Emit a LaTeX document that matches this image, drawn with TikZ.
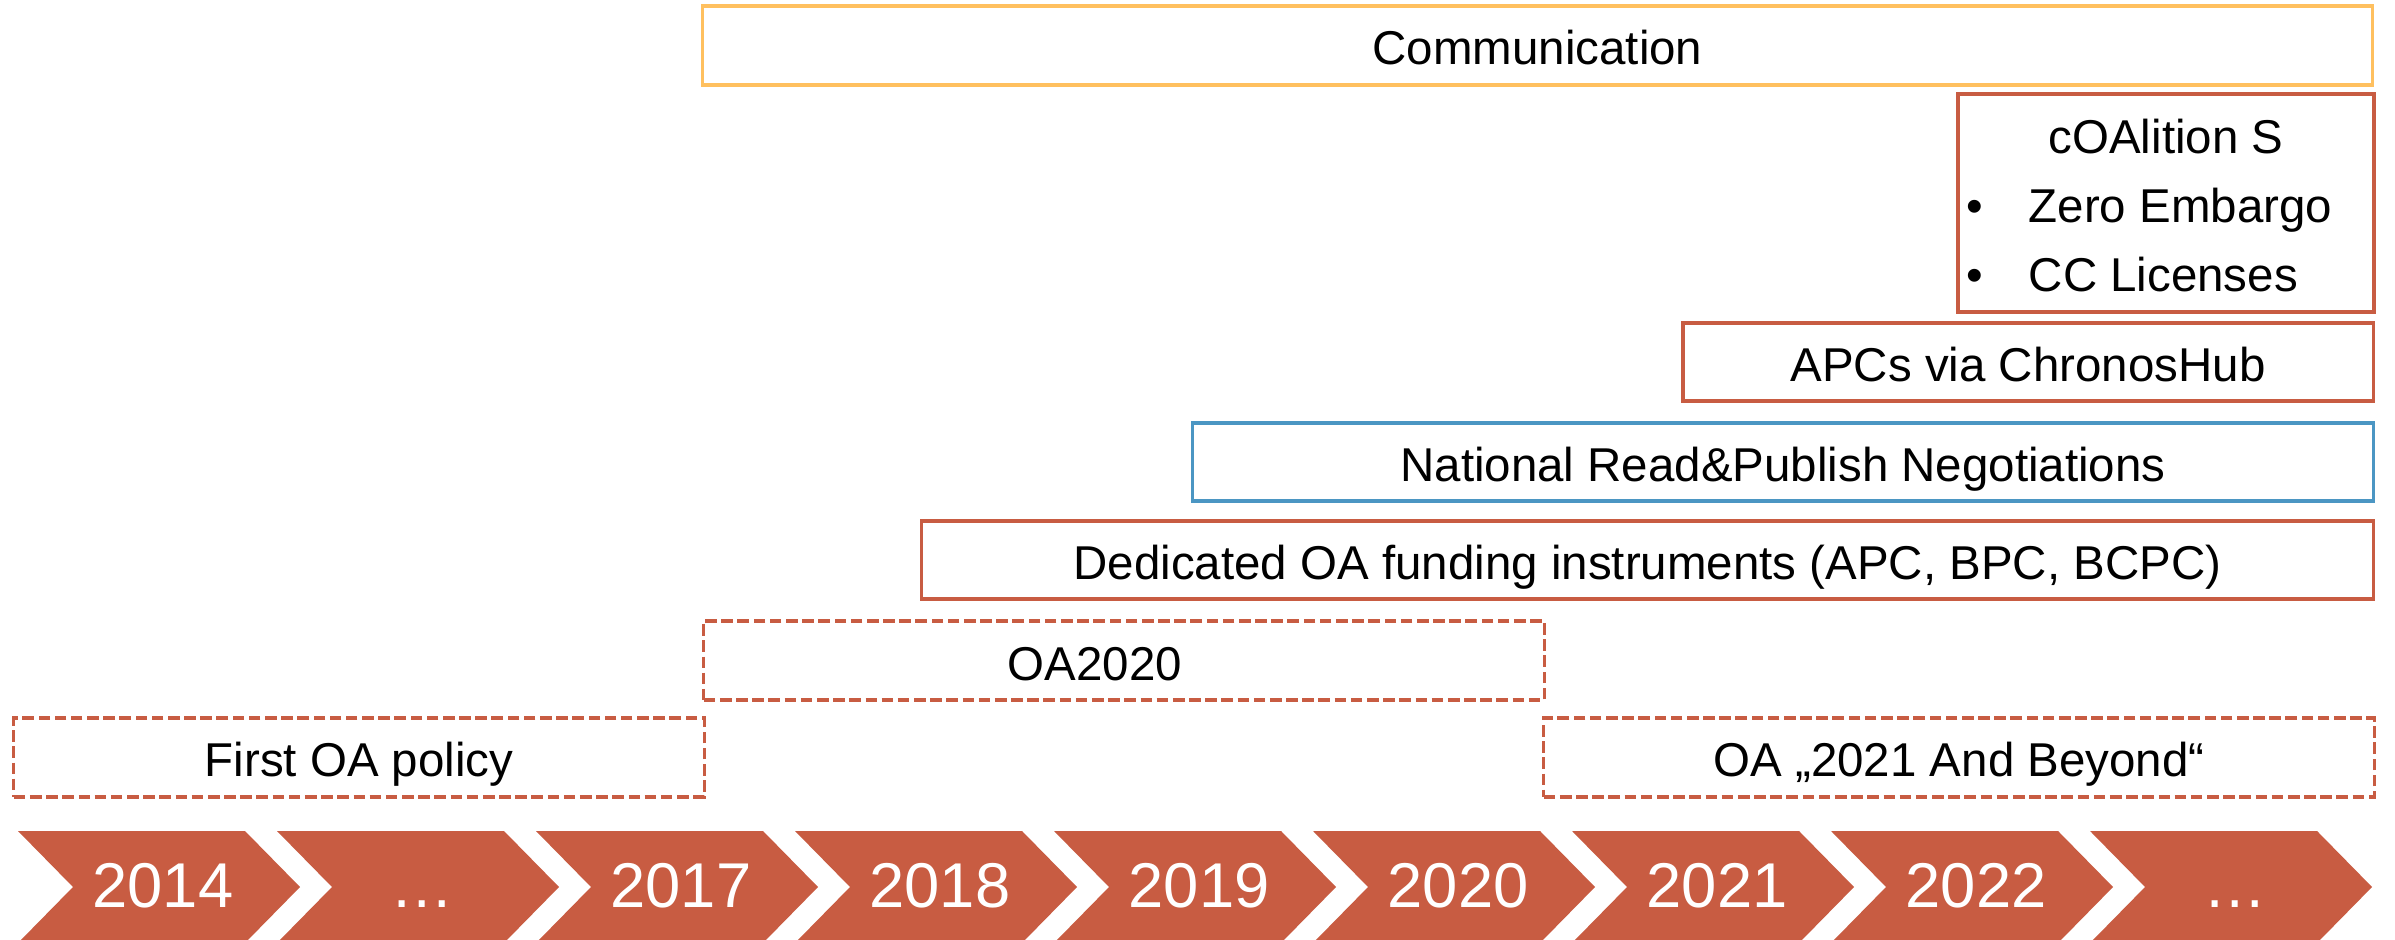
\documentclass[tikz,border=0pt]{standalone}
\usepackage{fontspec}
\setmainfont{Liberation Sans}
\definecolor{brick}{RGB}{200,92,66}
\definecolor{ablue}{RGB}{75,150,195}
\definecolor{aorange}{RGB}{255,192,95}
\tikzset{
  lbl/.style={font=\fontsize{13.5}{16}\selectfont, text=black},
  box/.style={draw=brick, line width=0.95pt, inner sep=0pt, text depth=0pt, text height=0.38cm, lbl},
  dbox/.style={box, dash pattern=on 3.3pt off 1.3pt},
  chev/.style={fill=brick, draw=none},
  yr/.style={font=\fontsize{18}{20}\selectfont, text=white, anchor=base, inner sep=0pt},
  bul/.style={lbl, anchor=base, inner sep=0pt},
}
\begin{document}
\begin{tikzpicture}[x=0.01cm, y=-0.01cm]
\useasboundingbox (0,0) rectangle (2395,940);
\clip (0,0) rectangle (2395,940);
% top boxes
\node[box, draw=aorange, minimum width=16.69cm, minimum height=0.79cm] (comm) at (1537.5,45.5) {Communication};
\node[box, minimum width=4.16cm, minimum height=2.18cm] (coal) at (2166,203) {};
\node[bul] (coalt) at (2166,154) {cOAlition S};
\node[bul] (b1) at (1975,223) {•};
\node[bul, anchor=base west] (z1) at (2028,223) {Zero Embargo};
\node[bul] (b2) at (1975,292) {•};
\node[bul, anchor=base west] (z2) at (2028,292) {CC Licenses};
\node[box, minimum width=6.9cm, minimum height=0.78cm] (apc) at (2028,362) {APCs via ChronosHub};
\node[box, draw=ablue, minimum width=11.8cm, minimum height=0.78cm] (nat) at (1783,462) {National Read\&Publish Negotiations};
\node[box, minimum width=14.51cm, minimum height=0.78cm] (ded) at (1647.5,560) {Dedicated OA funding instruments (APC, BPC, BCPC)};
\node[dbox, minimum width=8.4cm, minimum height=0.79cm] (oa20) at (1124,660.5) {};
\node[bul] (oa20t) at (1095,680) {OA2020};
\node[dbox, minimum width=6.9cm, minimum height=0.79cm] (first) at (359,757.5) {First OA policy};
\node[dbox, minimum width=8.3cm, minimum height=0.79cm] (beyond) at (1959,757.5) {OA „2021 And Beyond“};
% chevrons
\foreach \i/\t in {0/2014,1/…,2/2017,3/2018,4/2019,5/2020,6/2021,7/2022,8/…}{
  \pgfmathsetmacro\xs{18+259*\i}
  \fill[chev] (\xs,831) -- (\xs+227,831) -- (\xs+282,887) -- (\xs+227,943) -- (\xs,943) -- (\xs+55,887) -- cycle;
  \node[yr] (y\i) at (\xs+145,907) {\t};
}
\end{tikzpicture}
\end{document}
